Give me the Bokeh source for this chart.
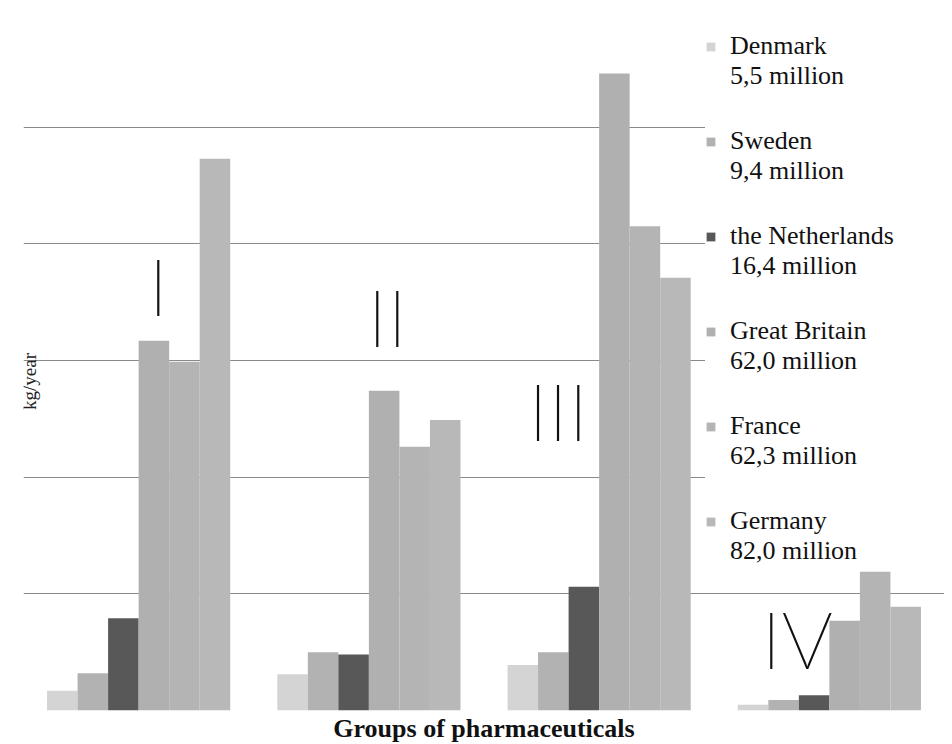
import math
from bokeh.plotting import figure
from bokeh.models import FactorRange, Range1d, FixedTicker, Legend, LegendItem, Label, ColumnDataSource, Title
from bokeh.transform import dodge
from bokeh.embed import file_html
from bokeh.resources import INLINE

groups = ["I", "II", "III", "IV"]
countries = ["Denmark", "Sweden", "the Netherlands", "Great Britain", "France", "Germany"]
populations = ["5,5 million", "9,4 million", "16,4 million", "62,0 million", "62,3 million", "82,0 million"]
denmark = [0.17, 0.31, 0.39, 0.05]
sweden = [0.32, 0.50, 0.50, 0.09]
netherlands = [0.79, 0.48, 1.06, 0.13]
great_britain = [3.17, 2.74, 5.46, 0.77]
france = [2.99, 2.26, 4.15, 1.19]
germany = [4.73, 2.49, 3.71, 0.89]
grid_ticks = [0, 1, 2, 3, 4, 5]

series = [denmark, sweden, netherlands, great_britain, france, germany]
colors = ["#d4d4d4", "#b2b2b2", "#585858", "#b0b0b0", "#b4b4b4", "#b8b8b8"]

p = figure(width=944, height=744, x_range=FactorRange(*groups, range_padding=0),
           y_range=Range1d(0, 6), output_backend="svg", toolbar_location=None,
           min_border_left=23, min_border_right=0, min_border_top=10, min_border_bottom=32)
p.outline_line_color = None
p.background_fill_color = "white"

p.yaxis.visible = False
p.xaxis.visible = False
p.yaxis.ticker = FixedTicker(ticks=grid_ticks)
p.ygrid.grid_line_color = "#8a8a8a"
p.ygrid.grid_line_width = 1
p.xgrid.grid_line_color = None

p.add_layout(Title(text="Groups of pharmaceuticals", align="center", text_font="Liberation Serif",
                   text_font_size="26px", text_font_style="bold", text_color="#111111",
                   standoff=3), "below")

bw = 0.1326
items = []
for k, (name, pop, vals, col) in enumerate(zip(countries, populations, series, colors)):
    src = ColumnDataSource(dict(group=groups, top=vals))
    r = p.vbar(x=dodge("group", (k - 2.5) * bw, range=p.x_range), top="top", width=bw,
               source=src, fill_color=col, line_color=None)
    items.append(LegendItem(label="\n" + name + "\n" + pop, renderers=[r]))

legend = Legend(items=items, location=(682, 144), padding=5, spacing=5,
                glyph_width=11, glyph_height=11, label_standoff=14, label_width=215,
                label_text_font="Liberation Serif", label_text_font_size="26px",
                label_text_color="#111111", border_line_color=None,
                background_fill_color="white", background_fill_alpha=1.0)
p.add_layout(legend)

p.add_layout(Label(x=0.026, y=2.82, text="kg/year", angle=math.pi / 2, text_align="center",
                   text_baseline="middle", text_font="Liberation Serif",
                   text_font_size="19px", text_color="#222222"))

numerals = ["I", "II", "III", "IV"]
num_x = [0.585, 1.58, 2.322, 3.36]
num_y = [3.65, 3.38, 2.58, 0.62]
for t, nx, ny in zip(numerals, num_x, num_y):
    p.add_layout(Label(x=nx, y=ny, text=t, text_align="center", text_baseline="middle",
                       text_font="Lato Thin", text_font_size="80px",
                       text_color="#111111"))

open("out.html", "w").write(file_html(p, INLINE))
